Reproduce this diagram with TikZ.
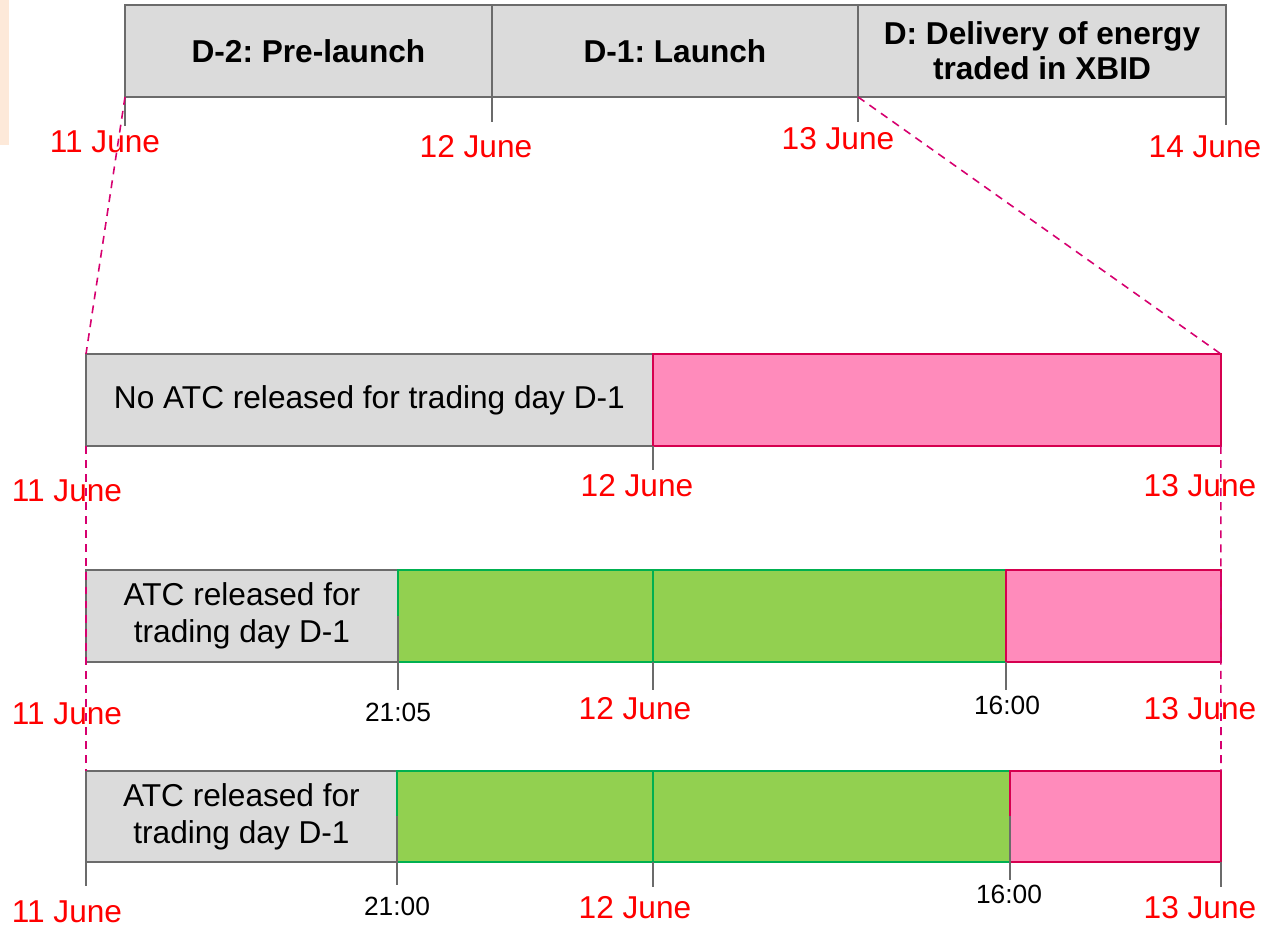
\documentclass[tikz,border=0pt]{standalone}
\usepackage{fontspec}
\setmainfont{Liberation Sans}
\usetikzlibrary{positioning}
\frenchspacing
\definecolor{barGray}{HTML}{DBDBDB}
\definecolor{edgeGray}{HTML}{6B6B6B}
\definecolor{atcGreen}{HTML}{92D050}
\definecolor{atcGreenEdge}{HTML}{00B050}
\definecolor{deliveryPink}{HTML}{FF8BBB}
\definecolor{pinkEdge}{HTML}{D6004F}
\definecolor{zoomLine}{HTML}{D6006F}
\definecolor{peach}{HTML}{FDE9D9}

\begin{document}
\begin{tikzpicture}[
    x=0.02cm, y=-0.02cm,
    every node/.style={inner sep=0pt, outer sep=0pt},
    seg/.style={anchor=north west, minimum height=1.84cm, line width=1.3pt, align=center},
    phase/.style={seg, draw=edgeGray, fill=barGray, font=\fontsize{18}{20}\selectfont\bfseries},
    noatc/.style={seg, draw=edgeGray, fill=barGray, font=\fontsize{18}{21}\selectfont},
    atc/.style={seg, draw=atcGreenEdge, fill=atcGreen},
    closed/.style={seg, draw=pinkEdge, fill=deliveryPink},
    tick/.style={draw=edgeGray, line width=1.2pt},
    date/.style={text=red, font=\fontsize{18}{20}\selectfont},
    clock/.style={text=black, font=\fontsize{15}{17}\selectfont},
    zoom/.style={draw=zoomLine, line width=0.9pt, dash pattern=on 4.5pt off 3.5pt}
]
    \useasboundingbox (0,0) rectangle (1281,928);
    \fill[peach] (0,0) rectangle (9,145);

    % Phases
    \node[phase, minimum width=7.34cm] (d2) at (125,5) {D-2: Pre-launch};
    \node[phase, minimum width=7.32cm] (d1) at (492,5) {D-1: Launch};
    \node[phase, minimum width=7.36cm] (d) at (858,5) {D: Delivery of energy\\traded in XBID};

    % Row 1
    \node[noatc, minimum width=11.34cm] (r1a) at (86,354) {No ATC released for trading day D-1};
    \node[closed, minimum width=11.36cm] (r1b) at (653,354) {};

    % Row 2
    \node[noatc, minimum width=6.24cm] (r2a) at (86,570) {ATC released for\\trading day D-1};
    \node[atc, minimum width=5.10cm] (r2b) at (398,570) {};
    \node[atc, minimum width=7.06cm] (r2c) at (653,570) {};
    \node[closed, minimum width=4.30cm] (r2d) at (1006,570) {};

    % Row 3
    \node[noatc, minimum width=6.22cm, minimum height=1.82cm] (r3a) at (86,771) {ATC released for\\trading day D-1};
    \node[atc, minimum width=5.12cm, minimum height=1.82cm] (r3b) at (397,771) {};
    \node[atc, minimum width=7.14cm, minimum height=1.82cm] (r3c) at (653,771) {};
    \node[closed, minimum width=4.22cm, minimum height=1.82cm] (r3d) at (1010,771) {};

    % Ticks
    \draw[tick] (d2.south west) -- ++(0,29);
    \draw[tick] (d1.south west) -- ++(0,25);
    \draw[tick] (d.south west) -- ++(0,25);
    \draw[tick] (d.south east) -- ++(0,28);
    \draw[tick] (r1b.south west) -- ++(0,24);
    \draw[tick] (r2b.west) -- ++(0,74);
    \draw[tick] (r2c.south west) -- ++(0,28);
    \draw[tick] (r2d.south west) -- ++(0,28);
    \draw[tick] (r3a.south west) -- ++(0,24);
    \draw[tick] (r3b.west) -- ++(0,69);
    \draw[tick] (r3c.south west) -- ++(0,25);
    \draw[tick] (r3d.west) -- ++(0,64);
    \draw[tick] (r3d.south east) -- ++(0,25);

    % Dates
    \node[date] (t11) at (105,142) {11 June};
    \node[date] (t12) at (476,147) {12 June};
    \node[date] (t13) at (838,139) {13 June};
    \node[date] (t14) at (1205,147) {14 June};
    \node[date] (a11) at (67,491) {11 June};
    \node[date] (a12) at (637,486) {12 June};
    \node[date] (a13) at (1200,486) {13 June};
    \node[date] (b11) at (67,714) {11 June};
    \node[clock] (b2105) at (398,712) {21:05};
    \node[date] (b12) at (635,709) {12 June};
    \node[clock] (b1600) at (1007,705) {16:00};
    \node[date] (b13) at (1200,709) {13 June};
    \node[date] (c11) at (67,912) {11 June};
    \node[clock] (c2100) at (397,906) {21:00};
    \node[date] (c12) at (635,908) {12 June};
    \node[clock] (c1600) at (1009,894) {16:00};
    \node[date] (c13) at (1200,908) {13 June};

    % Zoom lines
    \draw[zoom] (d2.south west) -- (r1a.north west);
    \draw[zoom] (d.south west) -- (r1b.north east);
    \draw[zoom] (r1a.south west) -- (r3a.north west);
    \draw[zoom] (r1b.south east) -- (r3d.north east);
\end{tikzpicture}
\end{document}
